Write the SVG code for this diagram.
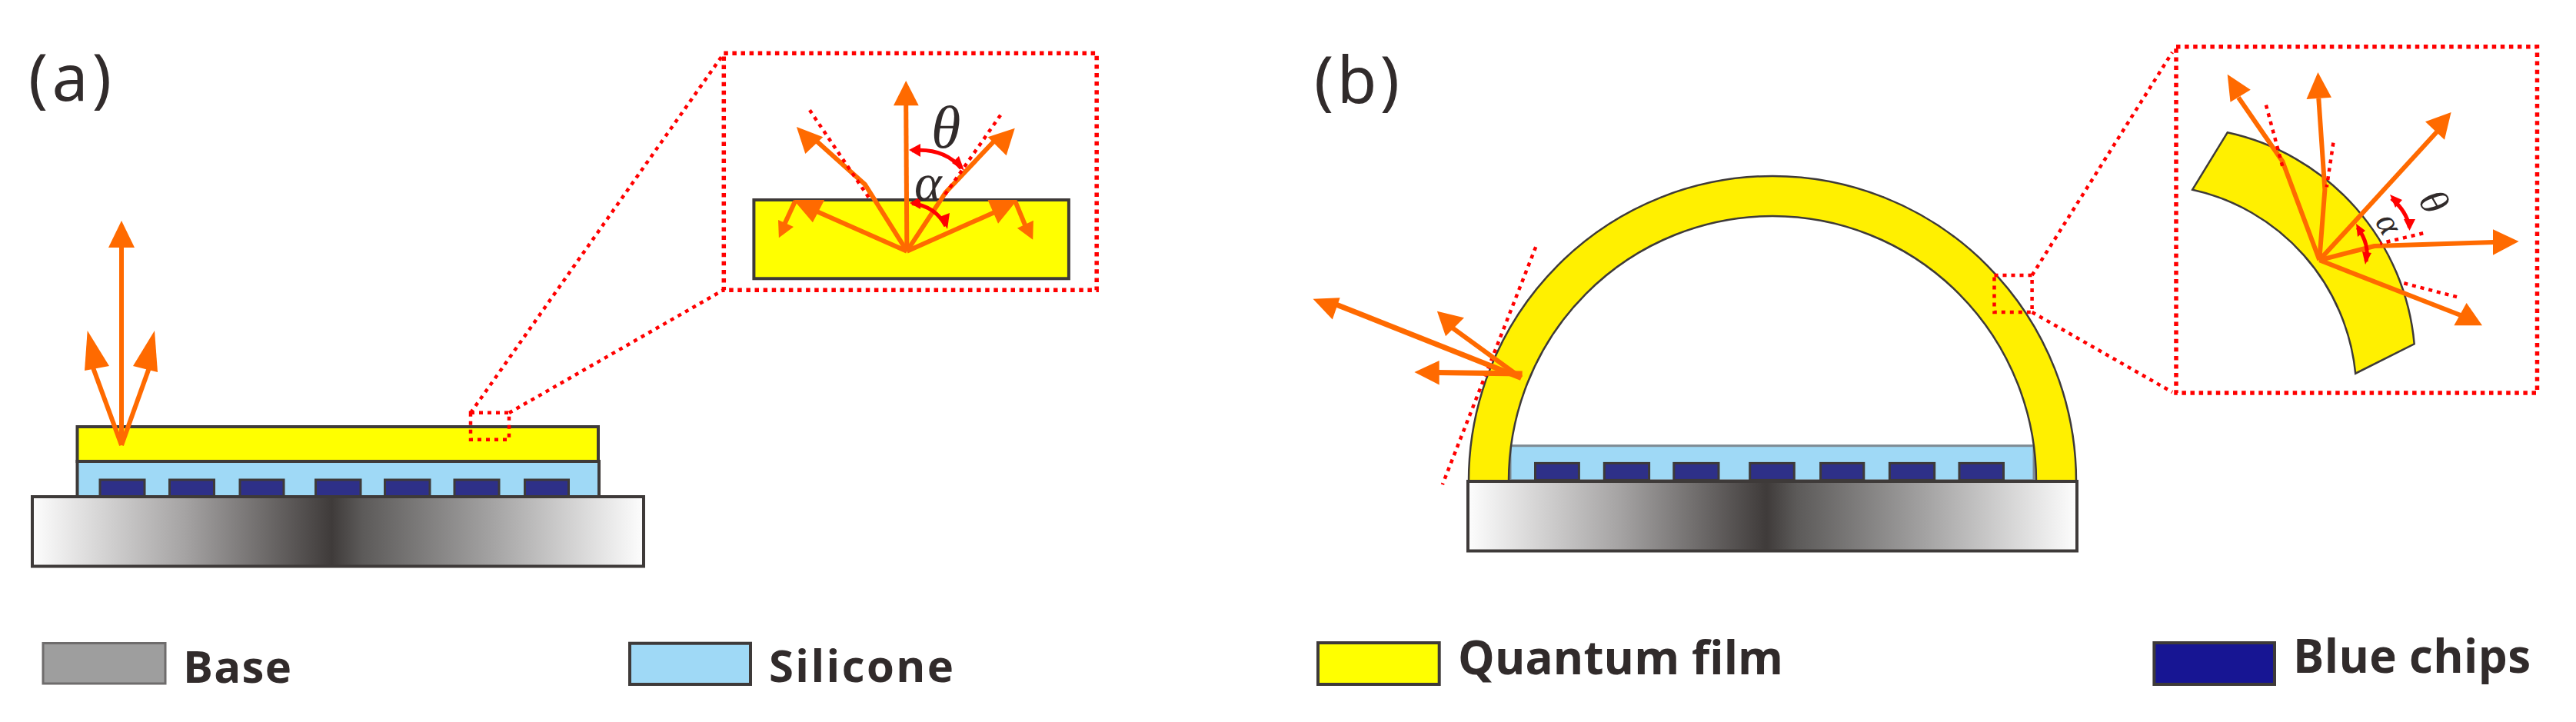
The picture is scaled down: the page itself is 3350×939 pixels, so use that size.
<svg xmlns="http://www.w3.org/2000/svg" width="3350" height="939" viewBox="0 0 3350 939">
<style>
.s{stroke:#3e3a39;stroke-width:4}
.y{fill:#ff0}
.y2{fill:#fff000;stroke:#3e3a39;stroke-width:2.5}
.si{fill:#9fd9f6}
.c{fill:#2e3088;stroke:#3e3a39;stroke-width:3}
.o{fill:none;stroke:#ff6a00;stroke-width:6;stroke-linejoin:round}
.o2{fill:none;stroke:#ff6a00;stroke-width:7}
.h{fill:#ff6a00;stroke:none}
.d{fill:none;stroke:#f00;stroke-width:5.500;stroke-dasharray:5.500 5.600}
.d2{fill:none;stroke:#f00;stroke-width:4.500;stroke-dasharray:5 6}
.r{fill:none;stroke:#f00;stroke-width:5}
.rh{fill:#f00;stroke:none}
.t{font-family:"Open Sans","Liberation Sans",sans-serif;font-weight:700;fill:#312b2b}
.p{font-family:"Noto Sans","Liberation Sans",sans-serif;font-size:84px;fill:#312b2b}
.g{font-family:"Liberation Serif",serif;font-style:italic;fill:#312b2b}
</style>
<defs>
<linearGradient id="gr" x1="0" x2="1" y1="0" y2="0">
<stop offset="0" stop-color="#fdfdfd"/><stop offset=".25" stop-color="#a5a3a3"/><stop offset=".49" stop-color="#3f3b3a"/><stop offset=".54" stop-color="#5c5a59"/><stop offset=".75" stop-color="#a3a2a2"/><stop offset="1" stop-color="#fdfdfd"/>
</linearGradient>
</defs>

<g id="label-a"><text class="p" x="37" y="131" textLength="108">(a)</text></g>
<g id="label-b"><text class="p" x="1709" y="134" textLength="111">(b)</text></g>

<g id="device-a">
<rect class="y s" x="100.5" y="555" width="677.5" height="45"/>
<rect class="si s" x="100.5" y="600" width="678.5" height="46"/>
<rect class="c" x="130" y="624" width="58" height="22"/>
<rect class="c" x="220.5" y="624" width="58" height="22"/>
<rect class="c" x="312" y="624" width="57" height="22"/>
<rect class="c" x="410.5" y="624" width="58.500" height="22"/>
<rect class="c" x="500.5" y="624" width="58.500" height="22"/>
<rect class="c" x="591" y="624" width="58" height="22"/>
<rect class="c" x="682.500" y="624" width="57" height="22"/>
<rect class="s" fill="url(#gr)" x="42" y="646" width="795" height="90.500"/>
</g>

<g id="inset-a">
<rect class="y s" x="980.400" y="260" width="409.500" height="102.300"/>
<rect class="d" x="941.300" y="69.300" width="484.900" height="308"/>
</g>

<g id="device-b">
<rect class="si" x="1964" y="579.700" width="681" height="45" stroke="#7d8a92" stroke-width="3"/>
<rect class="c" x="1996.500" y="602.400" width="56.900" height="22"/>
<rect class="c" x="2086.300" y="602.400" width="58.300" height="22"/>
<rect class="c" x="2176.800" y="602.400" width="58.200" height="22"/>
<rect class="c" x="2275.700" y="602.400" width="57.600" height="22"/>
<rect class="c" x="2367.600" y="602.400" width="56.200" height="22"/>
<rect class="c" x="2457.400" y="602.400" width="58.300" height="22"/>
<rect class="c" x="2548" y="602.400" width="57.500" height="22"/>
<path class="y2" d="M1910 626A395 397 0 0 1 2700 626H2648A343 345 0 0 0 1962 626Z"/>
<rect class="s" fill="url(#gr)" x="1909" y="626" width="792" height="90.500"/>
</g>

<g id="inset-b">
<path class="y2" d="M2896.700 172.300A310 310 0 0 1 3139.700 447.300L3063.200 485.700A272 272 0 0 0 2851.200 246.700Z"/>
<rect class="d" x="2830" y="60.700" width="469.500" height="450.300"/>
</g>

<g id="connectors">
<rect class="d2" x="612" y="536.700" width="50" height="35"/>
<path class="d2" d="M612 537L941 70M662 537L941 377"/>
<path class="d2" d="M2593.500 358H2642.600V406.100H2593.500Z"/>
<path class="d2" d="M2642.600 358L2825 68M2642.600 406L2825 510"/>
<path class="d2" d="M1997.200 321.200L1875.900 630.200"/>

<path class="o" d="M158 579V318"/><polygon class="h" points="158,287 175,322 141,322"/>
<path class="o" d="M158 579L118 470"/><polygon class="h" points="113.700,430 110,482 142,476"/>
<path class="o" d="M158 579L197 470"/><polygon class="h" points="201,430 205,484 173,476"/>

<path class="o" d="M1179.400 326.700L1178.200 132"/><polygon class="h" points="1178.200,105 1194.700,137.300 1162,137.300"/>
<path class="o" d="M1179.400 326.700L1125 240L1058 180"/><polygon class="h" points="1035.900,165 1047.300,200 1070.300,178.300"/>
<path class="o" d="M1179.400 326.700L1230 250L1298 178"/><polygon class="h" points="1319.800,166.700 1284.600,178.300 1308.700,202.300"/>
<path class="o" d="M1179.400 326.700L1060 274"/><polygon class="h" points="1032,260 1072.200,260 1056.900,289.300"/>
<path class="o" d="M1179.400 326.700L1298 274"/><polygon class="h" points="1322.900,260 1284.600,260 1298,290.700"/>
<path class="o" d="M1034 261.700L1020 292"/><polygon class="h" points="1012.900,309.300 1012,286 1032,295"/>
<path class="o" d="M1320.200 261.700L1334 295"/><polygon class="h" points="1343.200,311.700 1322.900,296.700 1343.900,286.700"/>
<path class="d2" d="M1129.600 256.700L1053 143.300M1229 253L1303.700 146"/>
<path class="r" d="M1186 195.700Q1228 192 1250 219"/><polygon class="rh" points="1182,195 1197,187 1197,204"/><polygon class="rh" points="1254,222 1238,212 1247,203"/>
<path class="r" d="M1186 264.500Q1216 268 1230 294"/><polygon class="rh" points="1183,264 1197,256 1197,272"/><polygon class="rh" points="1232,298 1222,282 1235,277"/>

<path class="o2" d="M1978.300 491.500L1735 395"/><polygon class="h" points="1707.500,388.700 1742.600,387.300 1732.800,415.600"/>
<path class="o" d="M1978.300 491.500L1880 420"/><polygon class="h" points="1868.900,404.700 1904,413.200 1880,437.300"/>
<path class="o2" d="M1979.700 486L1868 484.500"/><polygon class="h" points="1839.400,484 1871.700,468.900 1871.700,500.500"/>

<path class="o" d="M3016.300 338.300L2968.400 210L2911 126.700"/><polygon class="h" points="2896.700,96.700 2926.800,116.700 2900.500,132.700"/>
<path class="o" d="M3016.300 338.300L3023.400 246.700L3015.300 128"/><polygon class="h" points="3014.400,94 3032,126.700 2999.500,129"/>
<path class="o" d="M3016.300 338.300L3175 165"/><polygon class="h" points="3187.600,146 3154,158.300 3179,181.700"/>
<path class="o" d="M3016.300 338.300L3088 320L3243.500 315"/><polygon class="h" points="3275.600,314 3242,298.300 3242,331.700"/>
<path class="o" d="M3016.300 338.300L3207.600 413"/><polygon class="h" points="3207.600,394 3191.400,423.300 3228,423.300"/>
<path class="d2" d="M2946.900 136.700L2968.400 216.700M3034.400 185.700L3025.800 243.300M3151.200 303.300L3095.200 316.700M3126.300 368.300L3197 386.700"/>
<path class="r" d="M3110 258Q3130 275 3133.500 296"/><polygon class="rh" points="3108,253 3124,260 3115,270"/><polygon class="rh" points="3133.500,300 3126,285 3141,285"/>
<path class="r" d="M3066 296Q3082 318 3077 340"/><polygon class="rh" points="3064,291 3076,300 3066,308"/><polygon class="rh" points="3076,344 3072,327 3084,329"/>
</g>

<g id="symbols">
<text class="g" x="1211" y="192" font-size="78">θ</text>
<text class="g" x="1189" y="260" font-size="68">α</text>
<text class="g" font-size="52" transform="translate(3144,260) rotate(60)">θ</text>
<text class="g" font-size="46" transform="translate(3088,288) rotate(60)">α</text>
</g>

<g id="legend-base"><rect x="56" y="836.500" width="159" height="52.500" fill="#9e9e9e" stroke="#6e6c6c" stroke-width="3"/><text class="t" x="238" y="887.500" font-size="58" textLength="141">Base</text></g>
<g id="legend-silicone"><rect class="si s" x="819" y="836.700" width="157" height="53.300"/><text class="t" x="1000" y="887.300" font-size="58" textLength="240">Silicone</text></g>
<g id="legend-film"><rect class="y s" x="1714" y="836" width="157.700" height="54"/><text class="t" x="1896" y="876.700" font-size="60" textLength="423">Quantum film</text></g>
<g id="legend-chips"><rect x="2801.400" y="836" width="156.600" height="54" fill="#171593" stroke="#3e3a39" stroke-width="4"/><text class="t" x="2982" y="875" font-size="60" textLength="309">Blue chips</text></g>
</svg>
